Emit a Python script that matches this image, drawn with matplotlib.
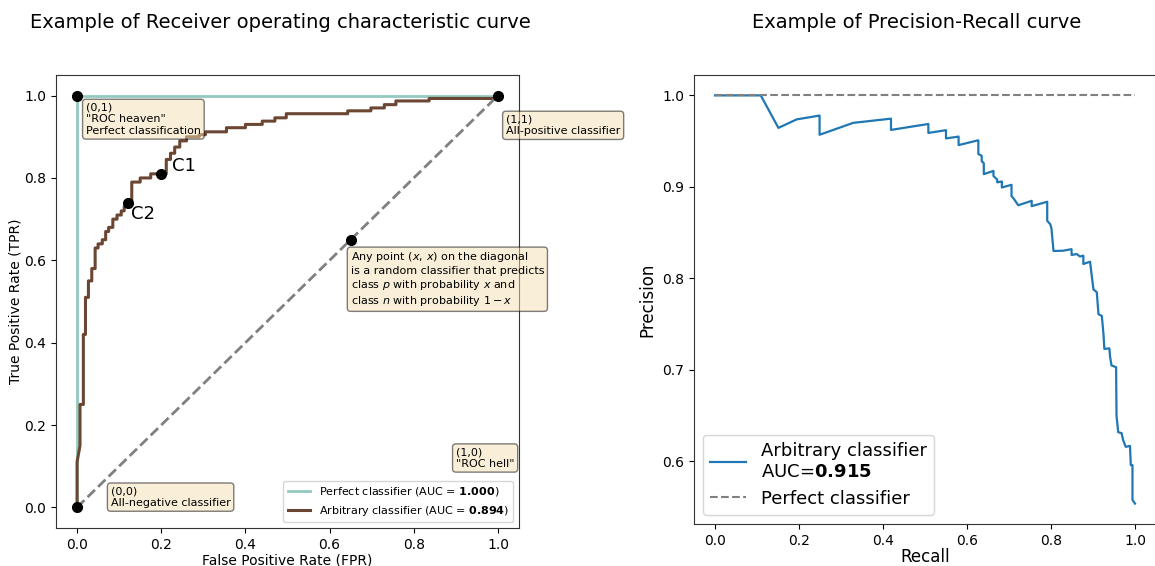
import matplotlib
matplotlib.use('Agg')
import matplotlib.pyplot as plt

# ROC curve of the arbitrary classifier (corner points)
roc_fpr = [0, 0, 0.007, 0.007, 0.015, 0.015, 0.02, 0.02, 0.027, 0.027, 0.035, 0.035,
           0.043, 0.043, 0.05, 0.05, 0.06, 0.06, 0.068, 0.068, 0.075, 0.075, 0.085, 0.085,
           0.095, 0.095, 0.105, 0.105, 0.112, 0.112, 0.12, 0.12, 0.13, 0.13, 0.15, 0.15,
           0.175, 0.175, 0.212, 0.212, 0.222, 0.222, 0.232, 0.232, 0.244, 0.244, 0.26, 0.26,
           0.29, 0.29, 0.305, 0.305, 0.355, 0.355, 0.40, 0.40, 0.44, 0.44, 0.47, 0.47,
           0.497, 0.497, 0.643, 0.643, 0.698, 0.698, 0.73, 0.73, 0.7575, 0.7575,
           0.8365, 0.8365, 1.0, 1.0]
roc_tpr = [0, 0.11, 0.15, 0.25, 0.25, 0.42, 0.42, 0.51, 0.51, 0.55, 0.55, 0.58,
           0.58, 0.63, 0.63, 0.64, 0.64, 0.65, 0.65, 0.67, 0.67, 0.68, 0.68, 0.70,
           0.70, 0.71, 0.71, 0.72, 0.72, 0.73, 0.73, 0.745, 0.745, 0.79, 0.79, 0.80,
           0.80, 0.81, 0.81, 0.845, 0.845, 0.86, 0.86, 0.875, 0.875, 0.89, 0.89, 0.90,
           0.90, 0.905, 0.905, 0.912, 0.912, 0.922, 0.922, 0.93, 0.93, 0.938, 0.938, 0.946,
           0.946, 0.956, 0.956, 0.963, 0.963, 0.97, 0.97, 0.978, 0.978, 0.987,
           0.987, 0.993, 0.993, 1.0]
perfect_fpr = [0, 0, 1]
perfect_tpr = [0, 1, 1]
roc_auc = [1.000, 0.894]

# special points on the ROC plot
key_x = [0, 1, 0, 0.65]
key_y = [1, 1, 0, 0.65]
c_names = ['C1', 'C2']
c_x = [0.2, 0.12]
c_y = [0.81, 0.74]

# precision-recall curve
recall = [0, 0.109, 0.151, 0.1945, 0.249, 0.249, 0.329, 0.419, 0.419, 0.508, 0.508,
          0.550, 0.550, 0.580, 0.580, 0.627, 0.627, 0.635, 0.635, 0.640, 0.640,
          0.663, 0.663, 0.672, 0.672, 0.683, 0.683, 0.706, 0.706, 0.712, 0.722,
          0.754, 0.754, 0.791, 0.791, 0.798, 0.801, 0.806, 0.829, 0.849, 0.849,
          0.861, 0.869, 0.877, 0.877, 0.893, 0.897, 0.901, 0.909, 0.913, 0.921,
          0.925, 0.927, 0.939, 0.9405, 0.944, 0.955, 0.956, 0.960, 0.968, 0.972,
          0.978, 0.988, 0.990, 0.994, 0.994, 1.0]
precision = [1.0, 1.0, 0.9645, 0.9738, 0.978, 0.957, 0.970, 0.9746, 0.9623, 0.9688, 0.959,
             0.962, 0.953, 0.955, 0.9457, 0.951, 0.936, 0.934, 0.928, 0.926, 0.914,
             0.9175, 0.912, 0.908, 0.905, 0.906, 0.8994, 0.9023, 0.890, 0.8867, 0.880,
             0.8848, 0.879, 0.8838, 0.863, 0.8594, 0.855, 0.830, 0.8303, 0.832, 0.8256,
             0.8267, 0.824, 0.8249, 0.8158, 0.8183, 0.803, 0.788, 0.785, 0.761, 0.759,
             0.739, 0.723, 0.7236, 0.715, 0.705, 0.703, 0.650, 0.632, 0.631, 0.623,
             0.616, 0.617, 0.596, 0.596, 0.558, 0.554]
pr_auc = 0.915

teal = '#93c9bf'
brown = '#6b4733'
box = dict(boxstyle='round', facecolor='wheat', alpha=0.5)

fig = plt.figure(figsize=(11.55, 5.66), dpi=100)
ax1 = fig.add_axes([56 / 1155, 38 / 566, 463 / 1155, 453 / 566])
ax2 = fig.add_axes([694 / 1155, 42 / 566, 462 / 1155, 449 / 566])

# ---- ROC ----
ax1.plot(perfect_fpr, perfect_tpr, color=teal, lw=2,
         label=r'Perfect classifier (AUC = $\bf{%.3f}$)' % roc_auc[0])
ax1.plot(roc_fpr, roc_tpr, color=brown, lw=2.2,
         label=r'Arbitrary classifier (AUC = $\bf{%.3f}$)' % roc_auc[1])
ax1.plot([0, 1], [0, 1], '--', color='gray', lw=2)
ax1.plot(key_x, key_y, 'o', color='black', ms=7, zorder=5)
ax1.plot(c_x, c_y, 'o', color='black', ms=7, zorder=5)
ax1.text(0.225, 0.828, c_names[0], fontsize=13, va='center', ha='left')
ax1.text(0.128, 0.712, c_names[1], fontsize=13, va='center', ha='left')

ax1.text(0.021, 0.983, '(0,1)\n"ROC heaven"\nPerfect classification',
         fontsize=8, va='top', ha='left', bbox=box)
ax1.text(1.019, 0.954, '(1,1)\nAll-positive classifier',
         fontsize=8, va='top', ha='left', bbox=box)
ax1.text(0.65, 0.624, 'Any point $(x,\\,x)$ on the diagonal\nis a random classifier that predicts\n'
         'class $p$ with probability $x$ and\nclass $n$ with probability $1-x$',
         fontsize=8, va='top', ha='left', bbox=box)
ax1.text(0.08, 0.025, '(0,0)\nAll-negative classifier',
         fontsize=8, va='center', ha='left', bbox=box)
ax1.text(0.90, 0.12, '(1,0)\n"ROC hell"',
         fontsize=8, va='center', ha='left', bbox=box)

ax1.set_xlim(-0.05, 1.05)
ax1.set_ylim(-0.05, 1.05)
ax1.set_xlabel('False Positive Rate (FPR)', fontsize=10, labelpad=1)
ax1.set_ylabel('True Positive Rate (TPR)', fontsize=10, labelpad=1)
ax1.tick_params(labelsize=10)
ax1.legend(loc='lower right', fontsize=8)

# ---- Precision-Recall ----
ax2.plot(recall, precision, color='#1f77b4', lw=1.6,
         label='Arbitrary classifier\nAUC=$\\bf{%.3f}$' % pr_auc)
ax2.plot([0, 1], [1, 1], '--', color='gray', lw=1.5, label='Perfect classifier')
ax2.set_xlim(-0.05, 1.05)
ax2.set_xticks([0, 0.2, 0.4, 0.6, 0.8, 1.0])
ax2.set_yticks([0.6, 0.7, 0.8, 0.9, 1.0])
ax2.set_xlabel('Recall', fontsize=12, labelpad=0)
ax2.set_ylabel('Precision', fontsize=12)
ax2.tick_params(labelsize=10)
ax2.legend(loc='lower left', fontsize=13)

for ax in (ax1, ax2):
    for s in ax.spines.values():
        s.set_color('#333333')

fig.text(280 / 1155, 1 - 22 / 566, 'Example of Receiver operating characteristic curve',
         fontsize=14, ha='center', va='center')
fig.text(917 / 1155, 1 - 22 / 566, 'Example of Precision-Recall curve',
         fontsize=14, ha='center', va='center')

fig.savefig('out.png', dpi=100)
